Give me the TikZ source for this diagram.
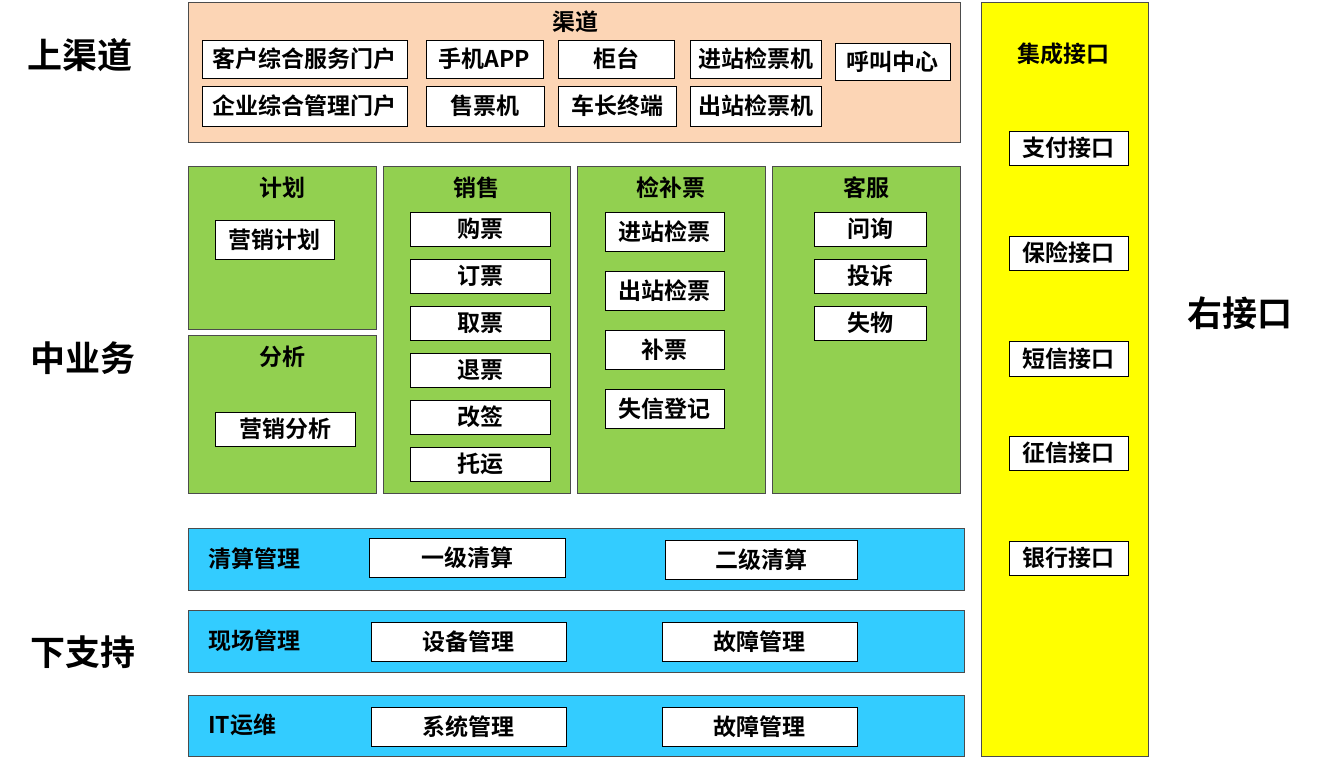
\documentclass[tikz,border=0pt]{standalone}
\usepackage{fontspec}
\setmainfont{Noto Sans CJK SC Bold}
\usetikzlibrary{positioning}
\definecolor{peach}{HTML}{FCD5B5}
\definecolor{leaf}{HTML}{92D050}
\definecolor{sky}{HTML}{33CCFF}
\definecolor{lemon}{HTML}{FFFF00}
% box from corner (#3,#4) to (#5,#6), in pixels
\newcommand{\pbox}[7][item]{%
  \node[#1, minimum width={((#5)-(#3))*0.5pt}, minimum height={((#6)-(#4))*0.5pt}]
    (#2) at ({((#3)+(#5))/2},{((#4)+(#6))/2}) {#7};}
\begin{document}
\begin{tikzpicture}[x=0.5pt, y=-0.5pt,
    item/.style={draw=black, fill=white, inner sep=0pt, font=\fontsize{11.5}{12}\selectfont},
    panel/.style={draw=black!70, inner sep=0pt},
    layer/.style={font=\fontsize{17.5}{18}\selectfont},
    title/.style={font=\fontsize{11.5}{12}\selectfont}]
  \useasboundingbox (0,0) rectangle (1321,758);

  % channels
  \pbox[panel, fill=peach]{chan}{188}{2}{960}{142}{}
  \node[title] (chantitle) at (575,22) {渠道};
  \pbox{portal}{202}{40}{407}{78}{客户综合服务门户}
  \pbox{app}{426}{40}{543}{78}{手机APP}
  \pbox{counter}{558}{40}{674}{78}{柜台}
  \pbox{gatein}{690}{40}{821}{78}{进站检票机}
  \pbox{call}{835}{43}{950}{80}{呼叫中心}
  \pbox{corp}{202}{86}{407}{126}{企业综合管理门户}
  \pbox{tvm}{426}{86}{544}{126}{售票机}
  \pbox{crew}{558}{86}{676}{126}{车长终端}
  \pbox{gateout}{690}{86}{821}{126}{出站检票机}

  % interfaces
  \pbox[panel, fill=lemon]{intf}{981}{2}{1148}{756}{}
  \node[title] (intftitle) at (1063,54) {集成接口};
  \pbox{pay}{1009}{131}{1128}{165}{支付接口}
  \pbox{insure}{1009}{236}{1128}{270}{保险接口}
  \pbox{sms}{1009}{341}{1128}{376}{短信接口}
  \pbox{credit}{1009}{436}{1128}{470}{征信接口}
  \pbox{bank}{1009}{541}{1128}{575}{银行接口}

  % layer labels
  \node[layer] (top) at (80,55) {上渠道};
  \node[layer] (mid) at (83,358) {中业务};
  \node[layer] (bot) at (83,652) {下支持};
  \node[layer] (right) at (1240,313) {右接口};

  % business
  \pbox[panel, fill=leaf]{plan}{188}{166}{376}{329}{}
  \pbox[panel, fill=leaf]{anal}{188}{335}{376}{493}{}
  \pbox[panel, fill=leaf]{sale}{383}{166}{570}{493}{}
  \pbox[panel, fill=leaf]{check}{577}{166}{765}{493}{}
  \pbox[panel, fill=leaf]{serv}{772}{166}{960}{493}{}
  \node[title] at (282,188) {计划};
  \node[title] at (282,357) {分析};
  \node[title] at (476,188) {销售};
  \node[title] at (671,188) {检补票};
  \node[title] at (866,188) {客服};
  \pbox{mplan}{215}{220}{334}{259}{营销计划}
  \pbox{manal}{215}{412}{355}{446}{营销分析}
  \foreach \t [count=\i] in {购票,订票,取票,退票,改签,托运}
    \pbox{sale\i}{410}{165+47*\i}{550}{199+47*\i}{\t};
  \foreach \t [count=\i] in {进站检票,出站检票,补票,失信登记}
    \pbox{chk\i}{605}{153+59*\i}{724}{192+59*\i}{\t};
  \foreach \t [count=\i] in {问询,投诉,失物}
    \pbox{srv\i}{814}{165+47*\i}{926}{199+47*\i}{\t};

  % support
  \pbox[panel, fill=sky]{clear}{188}{528}{964}{590}{}
  \pbox[panel, fill=sky]{site}{188}{610}{964}{672}{}
  \pbox[panel, fill=sky]{itops}{188}{695}{964}{756}{}
  \node[title, anchor=west] at (201,559) {清算管理};
  \node[title, anchor=west] at (201,641) {现场管理};
  \node[title, anchor=west] at (201,725) {IT运维};
  \pbox{clr1}{369}{538}{565}{577}{一级清算}
  \pbox{clr2}{665}{540}{857}{579}{二级清算}
  \pbox{dev}{371}{622}{566}{661}{设备管理}
  \pbox{fault1}{662}{622}{857}{661}{故障管理}
  \pbox{sys}{371}{707}{566}{746}{系统管理}
  \pbox{fault2}{662}{707}{857}{746}{故障管理}
\end{tikzpicture}
\end{document}
